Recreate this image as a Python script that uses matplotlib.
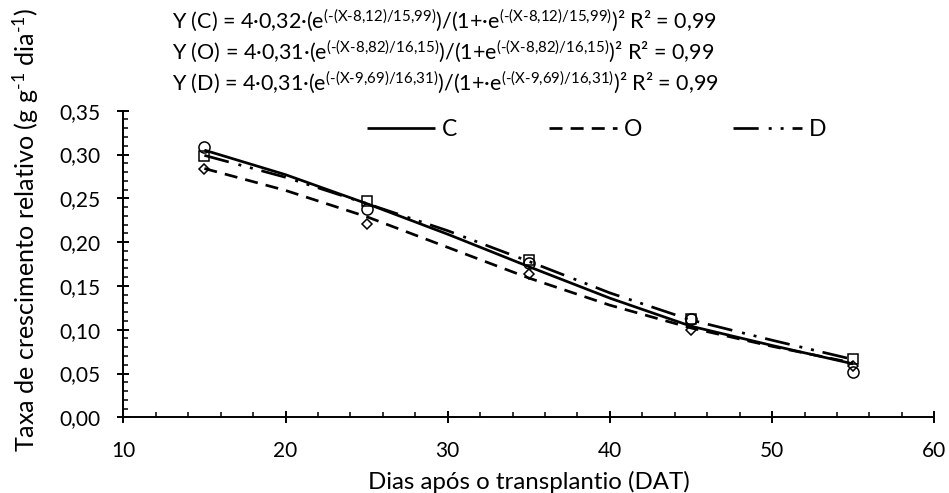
import matplotlib
matplotlib.use("Agg")
import matplotlib.pyplot as plt
from matplotlib.ticker import MultipleLocator, FuncFormatter

plt.rcParams['font.family'] = ['Lato', 'DejaVu Sans']
plt.rcParams['mathtext.fontset'] = 'custom'
plt.rcParams['mathtext.rm'] = 'Lato'
plt.rcParams['mathtext.it'] = 'Lato:italic'
plt.rcParams['mathtext.bf'] = 'Lato:bold'

# observed points
x_obs = [15, 25, 35, 45, 55]
c_obs = [0.308, 0.238, 0.176, 0.112, 0.052]
o_obs = [0.284, 0.221, 0.164, 0.100, 0.058]
d_obs = [0.298, 0.247, 0.179, 0.112, 0.067]

# fitted curves
x_fit = [15, 20, 25, 30, 35, 40, 45, 50, 55]
c_fit = [0.305, 0.277, 0.244, 0.209, 0.172, 0.136, 0.104, 0.082, 0.061]
o_fit = [0.284, 0.259, 0.229, 0.194, 0.159, 0.128, 0.102, 0.081, 0.062]
d_fit = [0.299, 0.274, 0.244, 0.213, 0.178, 0.142, 0.111, 0.088, 0.066]

series_labels = ['C', 'O', 'D']
equations = [
    r'Y (C) = 4·0,32·(e$^{\text{(-(X-8,12)/15,99)}}$)/(1+·e$^{\text{(-(X-8,12)/15,99)}}$)² R² = 0,99',
    r'Y (O) = 4·0,31·(e$^{\text{(-(X-8,82)/16,15)}}$)/(1+e$^{\text{(-(X-8,82)/16,15)}}$)² R² = 0,99',
    r'Y (D) = 4·0,31·(e$^{\text{(-(X-9,69)/16,31)}}$)/(1+·e$^{\text{(-(X-9,69)/16,31)}}$)² R² = 0,99',
]
x_label = 'Dias após o transplantio (DAT)'
y_label = r'Taxa de crescimento relativo (g g$^{\text{-1}}$ dia$^{\text{-1}}$)'

W, H = 949, 493
fig = plt.figure(figsize=(W / 100, H / 100), dpi=100)
ax = fig.add_axes([123.3 / W, 1 - 417.3 / H, (934.3 - 123.3) / W, (417.3 - 110.7) / H])

lw = 1.95
styles = ['-', (0, (4.8, 3.0)), (0, (9.3, 3.7, 1.1, 3.3, 1.1, 3.3))]
fits = [c_fit, o_fit, d_fit]
obs = [c_obs, o_obs, d_obs]
markers = ['o', 'D', 's']
msizes = [8.0, 5.6, 7.6]

handles = []
for fit, ls, lab in zip(fits, styles, series_labels):
    h, = ax.plot(x_fit, fit, color='black', lw=lw, linestyle=ls,
                 dash_capstyle='butt', solid_capstyle='butt', label=lab)
    handles.append(h)
for ob, m, ms in zip(obs, markers, msizes):
    ax.plot(x_obs, ob, linestyle='none', marker=m, markersize=ms,
            markerfacecolor='none', markeredgecolor='black', markeredgewidth=1.1)

ax.set_xlim(10, 60)
ax.set_ylim(0, 0.35)
ax.xaxis.set_major_locator(MultipleLocator(10))
ax.xaxis.set_minor_locator(MultipleLocator(2))
ax.yaxis.set_major_locator(MultipleLocator(0.05))
ax.yaxis.set_minor_locator(MultipleLocator(0.01))
ax.yaxis.set_major_formatter(FuncFormatter(lambda v, p: f'{v:.2f}'.replace('.', ',')))
for s in ['top', 'right']:
    ax.spines[s].set_visible(False)
for s in ['left', 'bottom']:
    ax.spines[s].set_linewidth(1.4)
ax.tick_params(axis='both', which='major', direction='inout', length=9, width=1.4,
               labelsize=15)
ax.tick_params(axis='both', which='minor', direction='in', length=3.5, width=1.1)
ax.tick_params(axis='x', which='major', pad=12.5)
ax.tick_params(axis='y', which='major', pad=12.0)

fs_leg = 16.5
leg = fig.legend(handles=handles, loc='center left',
                 bbox_to_anchor=(366.7 / W, 1 - 130 / H), bbox_transform=fig.transFigure,
                 ncol=3, frameon=False, fontsize=fs_leg, handlelength=68.5 / (fs_leg * 100 / 72),
                 handletextpad=0.28, columnspacing=4.0, borderpad=0, borderaxespad=0)

xl = fig.text(528.5 / W, 1 - 489 / H, x_label, fontsize=16, ha='center', va='baseline')
yl = fig.text(26 / W, 1 - 229.5 / H, y_label, fontsize=16, ha='center', va='center',
              rotation=90)

eq_texts = []
for i, eq in enumerate(equations):
    eq_texts.append(fig.text(172 / W, 1 - (21 + 31 * i) / H, eq, fontsize=15.5,
                             ha='left', va='center'))

# scale label fonts so their extents match the reference
fig.canvas.draw()
r = fig.canvas.get_renderer()
bb = xl.get_window_extent(r)
xl.set_fontsize(16 * 323.0 / bb.width)
bb = yl.get_window_extent(r)
yl.set_fontsize(16 * 445.0 / bb.height)

fig.savefig('out.png', dpi=100)
